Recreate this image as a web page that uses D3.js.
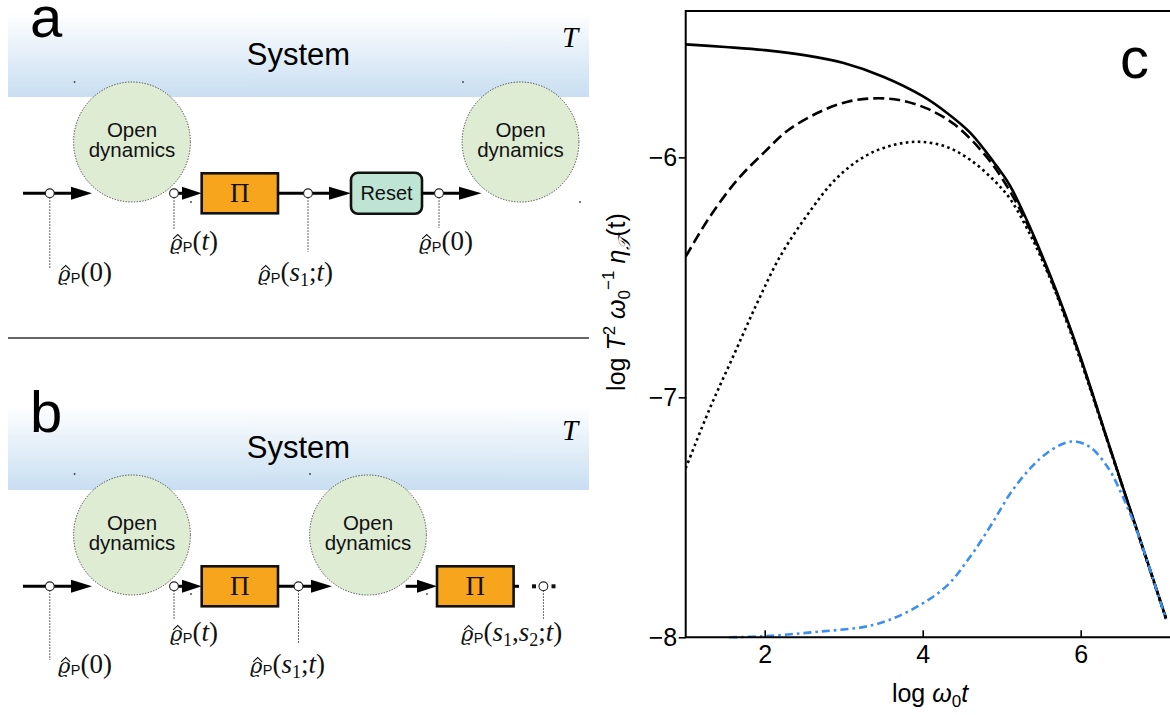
<!DOCTYPE html>
<html><head><meta charset="utf-8">
<script src="https://cdn.jsdelivr.net/npm/d3@7"></script>
<style>body{margin:0;background:#fff}svg{display:block}</style>
</head><body>
<svg id="fig" width="1170" height="715"></svg>
<script>
// ---------- panel c: log ω0 t  vs  log T^2 ω0^-1 η_T(t) ----------
const xTickValues = [2, 4, 6];
const yTickValues = [-8, -7, -6];
const xTickLabels = ["2", "4", "6"];
const yTickLabels = ["\u22128", "\u22127", "\u22126"];

const solidX = [1.0, 1.5, 2.0, 2.5, 3.0, 3.5, 4.0, 4.3, 4.6, 4.9, 5.1, 5.35, 5.6, 5.8, 6.0, 6.4, 6.8, 7.08];
const solidY = [-5.529, -5.540, -5.553, -5.574, -5.607, -5.664, -5.745, -5.813, -5.897, -6.02, -6.115, -6.285, -6.48, -6.65, -6.835, -7.24, -7.64, -7.92];

const dashedX = [1.0, 1.3, 1.65, 2.0, 2.3, 2.7, 3.05, 3.37, 3.7, 4.05, 4.4, 4.75, 5.0, 5.35, 5.8, 6.0, 6.4, 6.8, 7.08];
const dashedY = [-6.414, -6.25, -6.095, -5.977, -5.886, -5.81, -5.768, -5.754, -5.761, -5.796, -5.862, -5.975, -6.085, -6.295, -6.657, -6.84, -7.242, -7.642, -7.922];

const dottedX = [1.0, 1.3, 1.6, 1.9, 2.2, 2.55, 2.9, 3.27, 3.6, 3.95, 4.3, 4.6, 4.9, 5.1, 5.35, 5.6, 5.8, 6.0, 6.4, 6.8, 7.08];
const dottedY = [-7.296, -7.05, -6.83, -6.61, -6.41, -6.235, -6.09, -5.995, -5.951, -5.935, -5.956, -6.01, -6.095, -6.17, -6.315, -6.495, -6.665, -6.848, -7.245, -7.645, -7.925];

const blueX = [1.55, 2.0, 2.67, 3.37, 3.83, 4.29, 4.61, 4.88, 5.11, 5.35, 5.57, 5.8, 5.95, 6.13, 6.36, 6.5, 6.6, 6.7, 6.85, 7.08];
const blueY = [-8.0, -7.995, -7.977, -7.949, -7.89, -7.79, -7.66, -7.525, -7.40, -7.30, -7.233, -7.19, -7.185, -7.21, -7.30, -7.39, -7.465, -7.545, -7.69, -7.925];

const svg = d3.select("#fig");
svg.append("rect").attr("width", 1170).attr("height", 715).attr("fill", "#fff");
const defs = svg.append("defs");
const grad = defs.append("linearGradient").attr("id", "bandFill")
  .attr("x1", 0).attr("y1", 0).attr("x2", 0).attr("y2", 1);
grad.append("stop").attr("offset", 0).attr("stop-color", "#ffffff");
grad.append("stop").attr("offset", 1).attr("stop-color", "#c8def1");

const SANS = "'Liberation Sans', Arial, Helvetica, sans-serif";
const SERIF = "'Liberation Serif', 'Times New Roman', serif";

// ---------- diagram helpers ----------
function band(g, dy) {
  g.append("rect").attr("x", 8).attr("y", 12 + dy).attr("width", 581).attr("height", 85)
    .attr("fill", "url(#bandFill)");
  g.append("text").attr("x", 298.5).attr("y", 65 + dy).attr("text-anchor", "middle")
    .attr("font-family", SANS).attr("font-size", 31).text("System");
  g.append("text").attr("x", 570).attr("y", 47 + dy).attr("text-anchor", "middle")
    .attr("font-family", SERIF).attr("font-style", "italic").attr("font-size", 29).text("T");
}
function blob(g, cx, cy) {
  g.append("ellipse").attr("cx", cx).attr("cy", cy).attr("rx", 58.4).attr("ry", 60)
    .attr("fill", "#dfecd4").attr("stroke", "#444").attr("stroke-width", 1)
    .attr("stroke-dasharray", "1.3,1.5");
  const t = g.append("text").attr("text-anchor", "middle").attr("font-family", SANS)
    .attr("font-size", 20.5).attr("fill", "#111");
  t.append("tspan").attr("x", cx).attr("y", cy - 5).text("Open");
  t.append("tspan").attr("x", cx).attr("y", cy + 15).text("dynamics");
}
function hline(g, x1, x2, y) {
  g.append("line").attr("x1", x1).attr("x2", x2).attr("y1", y).attr("y2", y)
    .attr("stroke", "#000").attr("stroke-width", 3);
}
function head(g, x0, x1, y) {
  g.append("path").attr("d", `M${x0},${y - 6.5}L${x1},${y}L${x0},${y + 6.5}Z`).attr("fill", "#000");
}
function node(g, x, y, yEnd) {
  g.append("line").attr("x1", x).attr("x2", x).attr("y1", y + 4).attr("y2", yEnd)
    .attr("stroke", "#333").attr("stroke-width", 1).attr("stroke-dasharray", "1.5,1.5");
  g.append("circle").attr("cx", x).attr("cy", y).attr("r", 4.4)
    .attr("fill", "#fff").attr("stroke", "#222").attr("stroke-width", 1.1);
}
function piBox(g, x0, x1, y) {
  g.append("rect").attr("x", x0).attr("y", y - 20).attr("width", x1 - x0).attr("height", 40)
    .attr("fill", "#f7a51d").attr("stroke", "#111").attr("stroke-width", 2.6);
  g.append("text").attr("x", (x0 + x1) / 2).attr("y", y + 9).attr("text-anchor", "middle")
    .attr("font-family", SERIF).attr("font-size", 27).attr("fill", "#111").text("\u03A0");
}
function speck(g, x, y) {
  g.append("rect").attr("x", x - 0.8).attr("y", y - 0.8).attr("width", 1.6).attr("height", 1.6).attr("fill", "#333");
}
// state label  ϱ̂_P( ... ) ; args: list of [text, italic?, subscript?]
function rhoLabel(g, x, y, args) {
  const t = g.append("text").attr("x", x).attr("y", y).attr("font-family", SERIF)
    .attr("font-size", 27).attr("fill", "#111");
  t.append("tspan").attr("font-family", "'DejaVu Serif', serif").attr("font-style", "italic")
    .attr("font-size", 21).text("\u03F1");
  t.append("tspan").attr("font-family", SANS).attr("font-size", 14.5).attr("dy", 2).attr("dx", 0.5).text("P");
  let shift = 2;
  args.forEach(([s, it, sub]) => {
    const sp = t.append("tspan").text(s);
    if (it) sp.attr("font-style", "italic");
    if (sub) { sp.attr("font-size", 18).attr("dy", 5 - shift); shift = 5; }
    else { sp.attr("dy", -shift); shift = 0; }
  });
  // hat over ϱ
  const e = t.node().getExtentOfChar(0);
  const cxh = e.x + e.width / 2 + 1.5, ty = e.y + e.height * 0.2;
  g.append("path").attr("d", `M${cxh - 4.5},${ty + 3}L${cxh},${ty - 1.2}L${cxh + 4.5},${ty + 3}`)
    .attr("fill", "none").attr("stroke", "#111").attr("stroke-width", 1.1);
}

// ---------- panel a ----------
const ga = svg.append("g");
band(ga, 0);
ga.append("text").attr("x", 30).attr("y", 37).attr("font-family", SANS).attr("font-size", 58).text("a");
blob(ga, 132, 142);
blob(ga, 520.5, 142);
const La = 193.3;
hline(ga, 23, 72, La); head(ga, 71, 92, La);
node(ga, 49.8, La, 268);
hline(ga, 174, 185, La); head(ga, 182, 201.7, La);
node(ga, 174, La, 230);
piBox(ga, 201.7, 278, La);
hline(ga, 278, 331, La); head(ga, 329, 351, La);
node(ga, 308, La, 252);
ga.append("rect").attr("x", 351).attr("y", La - 20.5).attr("width", 71).attr("height", 41).attr("rx", 7)
  .attr("fill", "#bee4d3").attr("stroke", "#111").attr("stroke-width", 2.6);
ga.append("text").attr("x", 386.5).attr("y", La + 7).attr("text-anchor", "middle")
  .attr("font-family", SANS).attr("font-size", 20).attr("fill", "#111").text("Reset");
hline(ga, 422, 461, La); head(ga, 459, 481.5, La);
node(ga, 439, La, 228);
rhoLabel(ga, 58, 281, [["(0)"]]);
rhoLabel(ga, 170, 250, [["("], ["t", true], [")"]]);
rhoLabel(ga, 258, 281, [["("], ["s", true], ["1", false, true], [";"], ["t", true], [")"]]);
rhoLabel(ga, 419, 250, [["(0)"]]);
[[74.6, 82], [463, 82], [580, 202], [191, 202]].forEach(p => speck(ga, p[0], p[1]));

// separator
svg.append("line").attr("x1", 8).attr("x2", 589).attr("y1", 338).attr("y2", 338)
  .attr("stroke", "#333").attr("stroke-width", 1.3);

// ---------- panel b ----------
const dB = 393;
const gb = svg.append("g");
band(gb, dB);
gb.append("text").attr("x", 30).attr("y", 432).attr("font-family", SANS).attr("font-size", 58).text("b");
blob(gb, 132, 142 + dB);
blob(gb, 368, 142 + dB);
const Lb = La + dB;
hline(gb, 23, 72, Lb); head(gb, 71, 92, Lb);
node(gb, 49.8, Lb, 660);
hline(gb, 174, 185, Lb); head(gb, 182, 201.7, Lb);
node(gb, 174, Lb, 620);
piBox(gb, 201.7, 278, Lb);
hline(gb, 278, 313, Lb); head(gb, 311, 332, Lb);
node(gb, 298.5, Lb, 643);
hline(gb, 405.7, 419, Lb); head(gb, 417, 437, Lb);
piBox(gb, 437, 513.6, Lb);
hline(gb, 513.6, 519, Lb);
gb.append("rect").attr("x", 532).attr("y", Lb - 2).attr("width", 4).attr("height", 4).attr("fill", "#111");
gb.append("rect").attr("x", 551.5).attr("y", Lb - 2).attr("width", 4).attr("height", 4).attr("fill", "#111");
node(gb, 543.4, Lb, 620);
rhoLabel(gb, 58, 673, [["(0)"]]);
rhoLabel(gb, 170, 641, [["("], ["t", true], [")"]]);
rhoLabel(gb, 250, 673, [["("], ["s", true], ["1", false, true], [";"], ["t", true], [")"]]);
rhoLabel(gb, 461, 641, [["("], ["s", true], ["1", false, true], [","], ["s", true], ["2", false, true], [";"], ["t", true], [")"]]);
[[74.6, 474], [310, 474], [191, 594], [427, 594]].forEach(p => speck(gb, p[0], p[1]));

// ---------- panel c ----------
const x = d3.scaleLinear().domain([1, 8]).range([685.7, 685.7 + 7 * 79]);
const y = d3.scaleLinear().domain([-8, -5.39]).range([637.3, 11]);
const gc = svg.append("g");
defs.append("clipPath").attr("id", "plotClip").append("rect")
  .attr("x", x(1)).attr("y", y(-5.39)).attr("width", 1170 - x(1)).attr("height", y(-8) - y(-5.39) + 2);

const line = d3.line().x(d => x(d[0])).y(d => y(d[1])).curve(d3.curveCatmullRom.alpha(0.5));
const zip = (a, b) => a.map((v, i) => [v, b[i]]);
const curves = gc.append("g").attr("clip-path", "url(#plotClip)").attr("fill", "none");
curves.append("path").attr("d", line(zip(solidX, solidY))).attr("stroke", "#000").attr("stroke-width", 2.6);
curves.append("path").attr("d", line(zip(dashedX, dashedY))).attr("stroke", "#000").attr("stroke-width", 2.6)
  .attr("stroke-dasharray", "11,5");
curves.append("path").attr("d", line(zip(dottedX, dottedY))).attr("stroke", "#000").attr("stroke-width", 2.6)
  .attr("stroke-dasharray", "2.6,3.4");
curves.append("path").attr("d", line(zip(blueX, blueY))).attr("stroke", "#3d8fef").attr("stroke-width", 2.6)
  .attr("stroke-dasharray", "8,4,2.6,4");

// frame
const frame = gc.append("g").attr("stroke", "#000").attr("stroke-width", 2).attr("fill", "none");
frame.append("path").attr("d", `M1172,${y(-5.39)}H${x(1)}V${y(-8)}H1172`);

// axes through d3 axis generators
const xAxis = d3.axisBottom(x).tickValues(xTickValues).tickFormat((d, i) => xTickLabels[i])
  .tickSizeInner(-7).tickSizeOuter(0).tickPadding(8);
const gx = gc.append("g").attr("transform", `translate(0,${y(-8)})`).call(xAxis);
gx.select(".domain").remove();
gx.selectAll("line").attr("stroke", "#000").attr("stroke-width", 1.6);
gx.selectAll("text").attr("font-family", SANS).attr("font-size", 25).attr("fill", "#000");

const yAxis = d3.axisLeft(y).tickValues(yTickValues).tickFormat((d, i) => yTickLabels[i])
  .tickSizeInner(7).tickSizeOuter(0).tickPadding(1.5);
const gy = gc.append("g").attr("transform", `translate(${x(1)},0)`).call(yAxis);
gy.select(".domain").remove();
gy.selectAll("line").attr("stroke", "#000").attr("stroke-width", 1.6);
gy.selectAll("text").attr("font-family", SANS).attr("font-size", 25).attr("fill", "#000");

// panel letter
gc.append("text").attr("x", 1120).attr("y", 78).attr("font-family", SANS).attr("font-size", 58).text("c");

// x title: log ω0 t
const xt = gc.append("text").attr("x", 930).attr("y", 702).attr("text-anchor", "middle")
  .attr("font-family", SANS).attr("font-size", 25);
xt.append("tspan").text("log ");
xt.append("tspan").attr("font-style", "italic").text("\u03C9");
xt.append("tspan").attr("font-size", 17).attr("dy", 5).text("0");
xt.append("tspan").attr("font-style", "italic").attr("dy", -5).text("t");

// y title: log T^2 ω0^-1 η_T(t)
const yt = gc.append("text").attr("transform", "translate(625,302) rotate(-90)").attr("text-anchor", "middle")
  .attr("font-family", SANS).attr("font-size", 25);
yt.append("tspan").text("log ");
yt.append("tspan").attr("font-style", "italic").text("T");
yt.append("tspan").attr("font-size", 17).attr("dy", -10).text("2");
yt.append("tspan").attr("font-style", "italic").attr("dy", 10).text(" \u03C9");
yt.append("tspan").attr("font-size", 17).attr("dy", 5).text("0");
yt.append("tspan").attr("font-size", 17).attr("dy", -16).text("\u22121");
yt.append("tspan").attr("font-style", "italic").attr("dy", 11).text(" \u03B7");
yt.append("tspan").attr("font-size", 17).attr("font-style", "italic").attr("font-family", "'DejaVu Serif', serif").attr("dy", 5).text("\uD835\uDCAF");
yt.append("tspan").attr("dy", -5).text("(t)");
</script>
</body></html>
